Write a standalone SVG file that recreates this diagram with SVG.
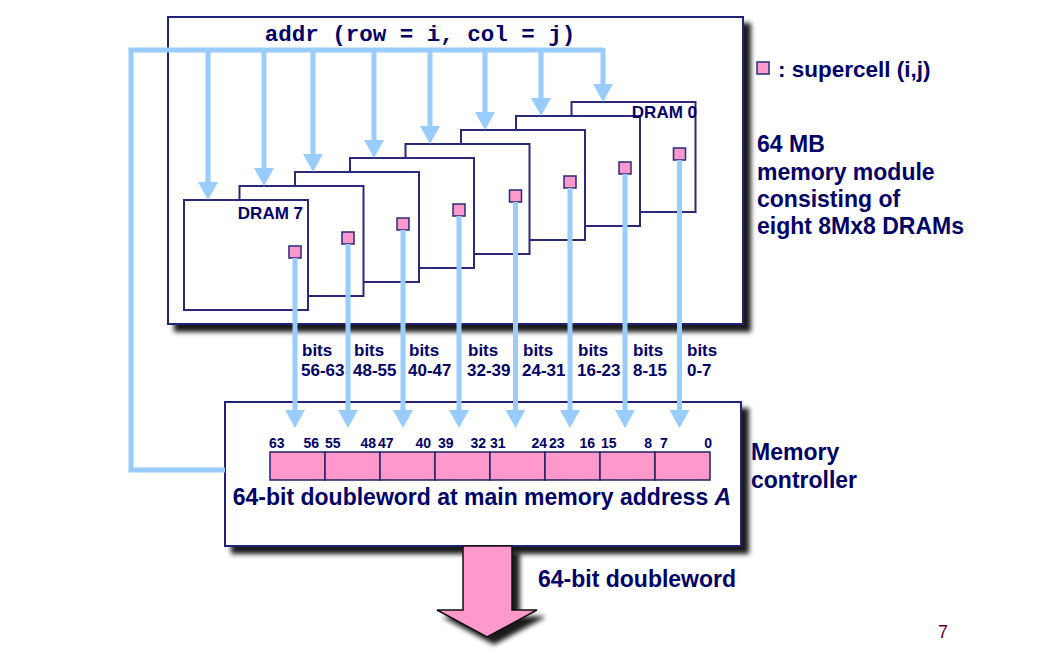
<svg xmlns="http://www.w3.org/2000/svg" width="1047" height="668" viewBox="0 0 1047 668">
<style>
.t{font-family:"Liberation Sans",Arial,sans-serif;font-weight:bold;fill:#000066}
.box{fill:#fff;stroke:#222277;stroke-width:2}
.dram{fill:#fff;stroke:#2a2a78;stroke-width:2}
.sc{fill:#ff99cc;stroke:#2a2a78;stroke-width:1.5}
.wire{fill:none;stroke:#99ccff;stroke-width:5}
.bn{font-family:"Liberation Sans",Arial,sans-serif;font-weight:bold;fill:#000066;font-size:14px}
.bl{font-family:"Liberation Sans",Arial,sans-serif;font-weight:bold;fill:#000066;font-size:17px}
.dl{font-family:"Liberation Sans",Arial,sans-serif;font-weight:bold;fill:#000066;font-size:17px}
</style>
<defs>
<filter id="sh" x="-5%" y="-5%" width="115%" height="120%">
<feGaussianBlur in="SourceAlpha" stdDeviation="2.5"/>
<feOffset dx="7" dy="7" result="o"/>
<feComponentTransfer><feFuncA type="linear" slope="0.9"/></feComponentTransfer>
<feMerge><feMergeNode/><feMergeNode in="SourceGraphic"/></feMerge>
</filter>
<marker id="ah" markerUnits="userSpaceOnUse" markerWidth="18" markerHeight="20" viewBox="0 0 18 20" refX="0" refY="10" orient="auto">
<path d="M0,0 L18,10 L0,20 z" fill="#99ccff"/>
</marker>
</defs>

<g id="module">
<rect class="box" x="168" y="17" width="575" height="307" filter="url(#sh)"/>
<text x="420" y="41" text-anchor="middle" style="font-family:'Liberation Mono','Courier New',monospace;font-weight:bold;font-size:22.5px;fill:#000066">addr (row = i, col = j)</text>
</g>

<g id="dram0"><rect class="dram" x="571.5" y="102" width="124" height="110"/><rect class="sc" x="673.5" y="148" width="12" height="12"/></g>
<g id="dram1"><rect class="dram" x="516" y="116" width="124" height="110"/><rect class="sc" x="619" y="162" width="12" height="12"/></g>
<g id="dram2"><rect class="dram" x="461" y="130" width="124" height="110"/><rect class="sc" x="564" y="176" width="12" height="12"/></g>
<g id="dram3"><rect class="dram" x="405.5" y="144" width="124" height="110"/><rect class="sc" x="509.5" y="190" width="12" height="12"/></g>
<g id="dram4"><rect class="dram" x="350" y="158" width="124" height="110"/><rect class="sc" x="453" y="204" width="12" height="12"/></g>
<g id="dram5"><rect class="dram" x="295" y="172" width="124" height="110"/><rect class="sc" x="397" y="218" width="12" height="12"/></g>
<g id="dram6"><rect class="dram" x="239.5" y="186" width="124" height="110"/><rect class="sc" x="342" y="232" width="12" height="12"/></g>
<g id="dram7"><rect class="dram" x="184" y="200" width="124" height="110"/><rect class="sc" x="289" y="246" width="12" height="12"/>
<text class="dl" x="303" y="219" text-anchor="end">DRAM 7</text></g>
<g id="dram0-label"><text class="dl" x="697" y="118" text-anchor="end">DRAM 0</text></g>

<g id="controller">
<rect class="box" x="225" y="402" width="516" height="144" filter="url(#sh)"/>
<g fill="#ff99cc" stroke="#222266" stroke-width="1.5">
<rect x="270" y="452" width="55" height="28"/>
<rect x="325" y="452" width="55" height="28"/>
<rect x="380" y="452" width="55" height="28"/>
<rect x="435" y="452" width="55" height="28"/>
<rect x="490" y="452" width="55" height="28"/>
<rect x="545" y="452" width="55" height="28"/>
<rect x="600" y="452" width="55" height="28"/>
<rect x="655" y="452" width="55" height="28"/>
</g>
<text class="bn" x="269" y="448">63</text>
<text class="bn" x="319" y="448" text-anchor="end">56</text>
<text class="bn" x="325" y="448">55</text>
<text class="bn" x="376" y="448" text-anchor="end">48</text>
<text class="bn" x="378" y="448">47</text>
<text class="bn" x="431" y="448" text-anchor="end">40</text>
<text class="bn" x="438" y="448">39</text>
<text class="bn" x="486" y="448" text-anchor="end">32</text>
<text class="bn" x="490" y="448">31</text>
<text class="bn" x="547" y="448" text-anchor="end">24</text>
<text class="bn" x="549" y="448">23</text>
<text class="bn" x="595" y="448" text-anchor="end">16</text>
<text class="bn" x="601" y="448">15</text>
<text class="bn" x="652" y="448" text-anchor="end">8</text>
<text class="bn" x="660" y="448">7</text>
<text class="bn" x="712" y="448" text-anchor="end">0</text>
<text class="t" x="482" y="505" text-anchor="middle" font-size="23">64-bit doubleword at main memory address <tspan font-style="italic">A</tspan></text>
</g>

<g id="output-arrow">
<path d="M463,546 L512,546 L512,610 L537,610 L487,637 L437,610 L463,610 z" fill="#ff99cc" stroke="#111" stroke-width="1.5" filter="url(#sh)"/>
</g>

<g id="connectors">
<path class="wire" d="M225,470 L131,470 L131,50 L603,50"/>
<path class="wire" d="M208,50 L208,182" marker-end="url(#ah)"/>
<path class="wire" d="M264,50 L264,168" marker-end="url(#ah)"/>
<path class="wire" d="M313,50 L313,154" marker-end="url(#ah)"/>
<path class="wire" d="M374,50 L374,140" marker-end="url(#ah)"/>
<path class="wire" d="M430,50 L430,126" marker-end="url(#ah)"/>
<path class="wire" d="M485,50 L485,112" marker-end="url(#ah)"/>
<path class="wire" d="M541,50 L541,98" marker-end="url(#ah)"/>
<path class="wire" d="M603,48 L603,84" marker-end="url(#ah)"/>
<path class="wire" d="M295,258 L295,410" marker-end="url(#ah)"/>
<path class="wire" d="M348,244 L348,410" marker-end="url(#ah)"/>
<path class="wire" d="M403,230 L403,410" marker-end="url(#ah)"/>
<path class="wire" d="M459,216 L459,410" marker-end="url(#ah)"/>
<path class="wire" d="M515.5,202 L515.5,410" marker-end="url(#ah)"/>
<path class="wire" d="M570,188 L570,410" marker-end="url(#ah)"/>
<path class="wire" d="M625,174 L625,410" marker-end="url(#ah)"/>
<path class="wire" d="M679.5,160 L679.5,410" marker-end="url(#ah)"/>
</g>

<g id="bit-labels">
<text class="bl" x="302" y="356">bits</text><text class="bl" x="301" y="376">56-63</text>
<text class="bl" x="354" y="356">bits</text><text class="bl" x="353" y="376">48-55</text>
<text class="bl" x="409" y="356">bits</text><text class="bl" x="408" y="376">40-47</text>
<text class="bl" x="468" y="356">bits</text><text class="bl" x="467" y="376">32-39</text>
<text class="bl" x="523" y="356">bits</text><text class="bl" x="522" y="376">24-31</text>
<text class="bl" x="578" y="356">bits</text><text class="bl" x="577" y="376">16-23</text>
<text class="bl" x="633" y="356">bits</text><text class="bl" x="633" y="376">8-15</text>
<text class="bl" x="687" y="356">bits</text><text class="bl" x="687" y="376">0-7</text>
</g>

<g id="legend">
<rect class="sc" x="757" y="62" width="12" height="12"/>
<text class="t" x="778" y="77" font-size="22.5">: supercell (i,j)</text>
</g>
<g id="module-label">
<text class="t" font-size="23"><tspan x="757" y="152">64 MB</tspan><tspan x="757" y="180">memory module</tspan><tspan x="757" y="207">consisting of</tspan><tspan x="757" y="234">eight 8Mx8 DRAMs</tspan></text>
</g>
<g id="controller-label">
<text class="t" font-size="23"><tspan x="751" y="460">Memory</tspan><tspan x="751" y="488">controller</tspan></text>
</g>
<text class="t" x="538" y="587" font-size="23">64-bit doubleword</text>
<text x="938" y="638" style="font-family:'Liberation Sans',Arial,sans-serif;font-size:18px;fill:#660033">7</text>
</svg>
